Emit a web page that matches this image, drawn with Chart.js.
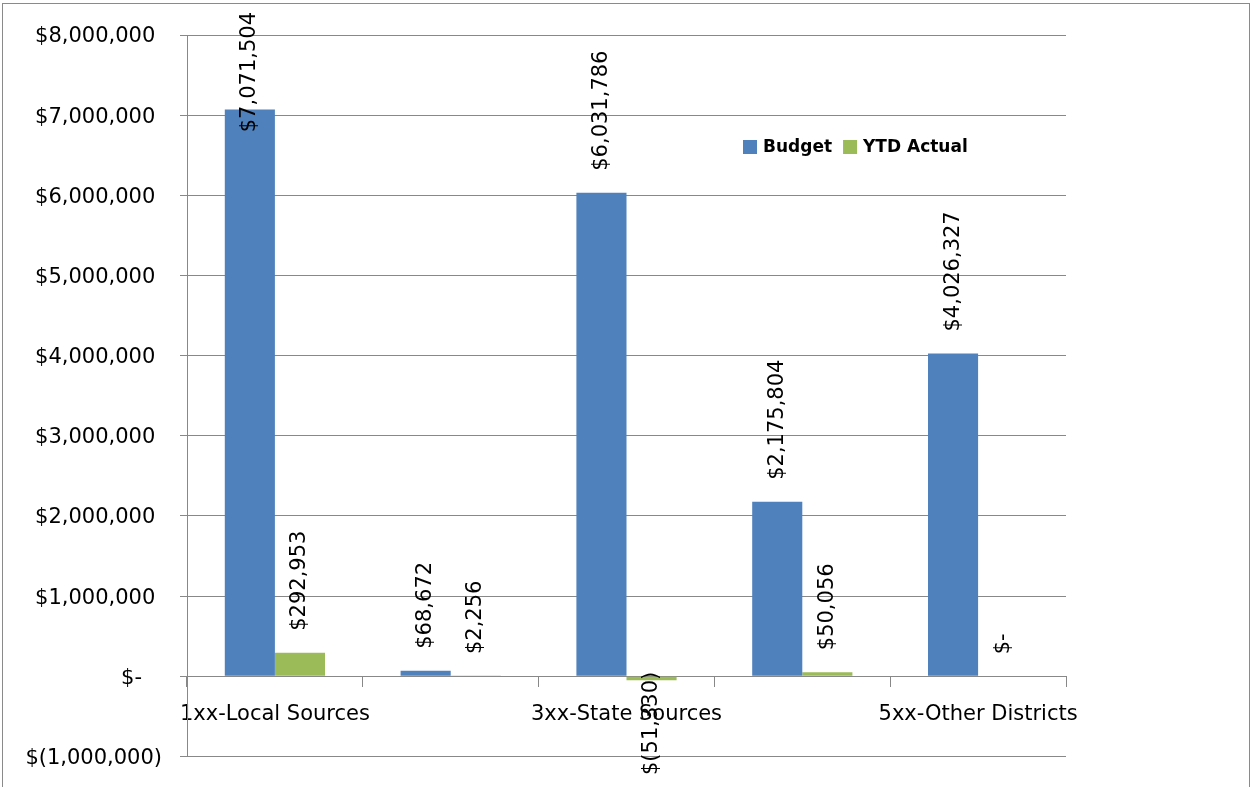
<!DOCTYPE html>
<html>
<head>
<meta charset="utf-8">
<script src="https://cdn.jsdelivr.net/npm/chart.js@4.4.1/dist/chart.umd.min.js"></script>
<style>
  body { margin: 0; background: #fff; }
</style>
</head>
<body>
<canvas id="chart" width="1252" height="787"></canvas>
<script>
const categories = [
  '1xx-Local Sources',
  '2xx-Other Political Subdivisions',
  '3xx-State Sources',
  '4xx-Federal Sources',
  '5xx-Other Districts',
];
const budget = [7071504, 68672, 6031786, 2175804, 4026327];
const ytdActual = [292953, 2256, -51330, 50056, 0];

const FONT = '"DejaVu Sans", sans-serif';

// accounting style: $7,071,504  $-  $(51,330)
const money = (v) => {
  if (v === 0) return '$-';
  const s = Math.abs(v).toLocaleString('en-US');
  return v < 0 ? '$(' + s + ')' : '$' + s;
};
const tickMoney = (v) => {
  if (v === 0) return '$-\u2007 ';
  return v < 0 ? money(v) : money(v) + ' ';
};

// rotated value labels above/below each bar, kept inside the picture
const barLabels = {
  id: 'barLabels',
  afterDatasetsDraw(chart) {
    const ctx = chart.ctx;
    ctx.save();
    ctx.font = '21px ' + FONT;
    ctx.fillStyle = '#000';
    ctx.textBaseline = 'middle';
    ctx.textAlign = 'left';
    chart.data.datasets.forEach((ds, i) => {
      chart.getDatasetMeta(i).data.forEach((bar, j) => {
        const v = ds.data[j];
        const text = money(v);
        const w = ctx.measureText(text).width;
        let start;
        if (v >= 0) {
          start = bar.y - 22;
          if (start - w < 12) start = 12 + w;
        } else {
          start = bar.y + 22 + w;
          if (start > 775) start = 775;
        }
        ctx.save();
        ctx.translate(bar.x, start);
        ctx.rotate(-Math.PI / 2);
        ctx.fillText(text, 0, 0);
        ctx.restore();
      });
    });
    ctx.restore();
  },
};

// legend sitting inside the plot, plus the outer frame
const boxLegend = {
  id: 'boxLegend',
  afterDraw(chart) {
    const ctx = chart.ctx;
    ctx.save();
    ctx.strokeStyle = '#8a8a8a';
    ctx.lineWidth = 1;
    ctx.strokeRect(2.5, 3.5, 1247, 800);

    ctx.font = 'bold 17px ' + FONT;
    ctx.textBaseline = 'middle';
    let x = 743;
    const y = 147;
    chart.data.datasets.forEach((ds) => {
      ctx.fillStyle = ds.backgroundColor;
      ctx.fillRect(x, y - 7, 14, 14);
      x += 20;
      ctx.fillStyle = '#000';
      ctx.fillText(ds.label, x, y + 1);
      x += ctx.measureText(ds.label).width + 11;
    });
    ctx.restore();
  },
};

new Chart(document.getElementById('chart'), {
  type: 'bar',
  data: {
    labels: categories,
    datasets: [
      {
        label: 'Budget',
        data: budget,
        backgroundColor: '#4F81BD',
        categoryPercentage: 0.57,
        barPercentage: 1.0,
      },
      {
        label: 'YTD Actual',
        data: ytdActual,
        backgroundColor: '#9BBB59',
        categoryPercentage: 0.57,
        barPercentage: 1.0,
      },
    ],
  },
  options: {
    responsive: false,
    animation: false,
    layout: {
      padding: { left: 0, right: 186, top: 35, bottom: 28 },
    },
    plugins: {
      legend: { display: false },
      tooltip: { enabled: false },
    },
    scales: {
      x: {
        position: { y: 0 },
        afterFit: (scale) => { scale.height = 0; },
        grid: {
          drawOnChartArea: false,
          drawTicks: true,
          tickLength: 10,
          color: '#888888',
        },
        border: { display: true, color: '#888888' },
        ticks: {
          autoSkip: false,
          maxRotation: 0,
          padding: 16,
          color: '#000',
          font: { family: FONT, size: 21 },
          callback: (value, index) => (index % 2 === 0 ? categories[index] : ''),
        },
      },
      y: {
        min: -1000000,
        max: 8000000,
        afterFit: (scale) => { scale.width = 187; },
        grid: {
          color: '#888888',
          tickLength: 7,
        },
        border: { display: true, color: '#888888' },
        ticks: {
          stepSize: 1000000,
          padding: 18,
          labelOffset: 2,
          color: '#000',
          font: { family: FONT, size: 21 },
          callback: (value) => tickMoney(value),
        },
      },
    },
  },
  plugins: [barLabels, boxLegend],
});
</script>
</body>
</html>
